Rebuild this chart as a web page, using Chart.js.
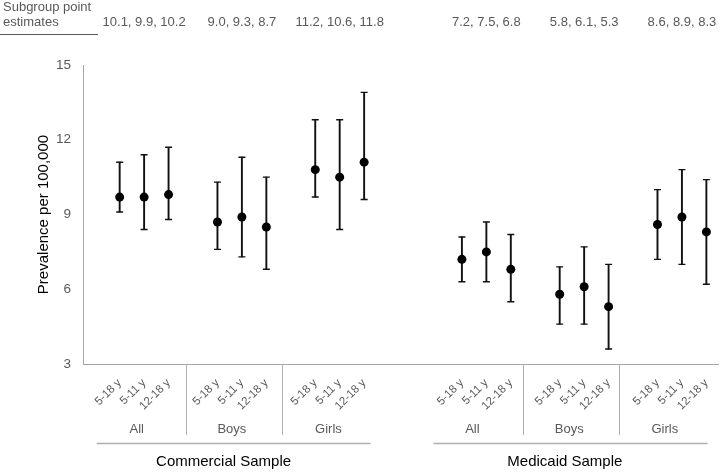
<!DOCTYPE html>
<html>
<head>
<meta charset="utf-8">
<script src="https://cdn.jsdelivr.net/npm/chart.js@4.4.1/dist/chart.umd.min.js"></script>
<style>
  body { margin: 0; background: #ffffff; }
</style>
</head>
<body>
<canvas id="myChart" width="724" height="473"></canvas>
<script>
'use strict';

//========== Data ==========
let ageBands = ['5-18 y', '5-11 y', '12-18 y'];
let subgroups = ['All', 'Boys', 'Girls'];
let samples = ['Commercial Sample', 'Medicaid Sample'];
let yTicks = [3, 6, 9, 12, 15];

// order: All (5-18, 5-11, 12-18), Boys (...), Girls (...)
let commercialPoint = [9.7, 9.7, 9.8, 8.7, 8.9, 8.5, 10.8, 10.5, 11.1];
let commercialLow = [9.1, 8.4, 8.8, 7.6, 7.3, 6.8, 9.7, 8.4, 9.6];
let commercialHigh = [11.1, 11.4, 11.7, 10.3, 11.3, 10.5, 12.8, 12.8, 13.9];

let medicaidPoint = [7.2, 7.5, 6.8, 5.8, 6.1, 5.3, 8.6, 8.9, 8.3];
let medicaidLow = [6.3, 6.3, 5.5, 4.6, 4.6, 3.6, 7.2, 7.0, 6.2];
let medicaidHigh = [8.1, 8.7, 8.2, 6.9, 7.7, 7.0, 10.0, 10.8, 10.4];

let pointEstimates = ['10.1, 9.9, 10.2', '9.0, 9.3, 8.7', '11.2, 10.6, 11.8',
  '7.2, 7.5, 6.8', '5.8, 6.1, 5.3', '8.6, 8.9, 8.3'];

//========== Build category slots ==========
let labels = [];
let pointData = [];
let lowData = [];
let highData = [];
let rangeData = [];
let groupMiddles = [];

function addBlank(n) {
  for (let i = 0; i < n; i++) {
    labels.push('');
    pointData.push(null);
    lowData.push(null);
    highData.push(null);
    rangeData.push(null);
  }
}

function addSample(points, lows, highs) {
  for (let g = 0; g < subgroups.length; g++) {
    addBlank(1);
    for (let a = 0; a < ageBands.length; a++) {
      let k = g * ageBands.length + a;
      labels.push(ageBands[a]);
      pointData.push(points[k]);
      lowData.push(lows[k]);
      highData.push(highs[k]);
      rangeData.push([lows[k], highs[k]]);
    }
    groupMiddles.push(labels.length - 2);
  }
}

addSample(commercialPoint, commercialLow, commercialHigh);
addBlank(2);
addSample(medicaidPoint, medicaidLow, medicaidHigh);

//========== Styling ==========
let fontFamily = '"Liberation Sans", Arial, sans-serif';
let grey = '#595959';
let lineGrey = '#b0b0b0';

// group decorations, in category-index units
let separatorsAt = [3.7, 7.64, 17.48, 21.41];
let groupLabelAt = [1.7, 5.59, 9.54, 15.43, 19.39, 23.3];
let sampleLineAt = [[0.06, 11.26], [13.84, 25.05]];
let sampleLabelAt = [5.25, 19.21];

let groupAxisPlugin = {
  id: 'groupAxis',
  afterDraw(chart) {
    let c = chart.ctx;
    let x = chart.scales.x;
    let bottom = chart.chartArea.bottom;
    c.save();

    // header
    c.fillStyle = grey;
    c.font = '13px ' + fontFamily;
    c.textAlign = 'left';
    c.textBaseline = 'alphabetic';
    c.fillText('Subgroup point', 3, 11);
    c.fillText('estimates', 3, 26);
    c.strokeStyle = grey;
    c.lineWidth = 1;
    c.beginPath();
    c.moveTo(0, 34.5);
    c.lineTo(98, 34.5);
    c.stroke();
    c.textAlign = 'center';
    for (let i = 0; i < pointEstimates.length; i++) {
      c.fillText(pointEstimates[i], x.getPixelForValue(groupMiddles[i]), 26);
    }

    // separators between subgroups
    c.strokeStyle = lineGrey;
    c.lineWidth = 1;
    for (let i = 0; i < separatorsAt.length; i++) {
      let px = Math.round(x.getPixelForValue(separatorsAt[i])) + 0.5;
      c.beginPath();
      c.moveTo(px, bottom);
      c.lineTo(px, 435);
      c.stroke();
    }

    // subgroup names
    c.fillStyle = grey;
    c.font = '13px ' + fontFamily;
    for (let i = 0; i < groupLabelAt.length; i++) {
      c.fillText(subgroups[i % subgroups.length], x.getPixelForValue(groupLabelAt[i]), 433);
    }

    // sample lines and names
    c.lineWidth = 1.5;
    for (let i = 0; i < samples.length; i++) {
      c.beginPath();
      c.moveTo(x.getPixelForValue(sampleLineAt[i][0]), 443.5);
      c.lineTo(x.getPixelForValue(sampleLineAt[i][1]), 443.5);
      c.stroke();
    }
    c.fillStyle = '#000000';
    c.font = '15px ' + fontFamily;
    for (let i = 0; i < samples.length; i++) {
      c.fillText(samples[i], x.getPixelForValue(sampleLabelAt[i]), 466);
    }
    c.restore();
  }
};

//========== Chart ==========
let ctx = document.getElementById('myChart').getContext('2d');

let myChart = new Chart(ctx, {
  data: {
    labels: labels,
    datasets: [
      {
        type: 'line',
        label: 'Point estimate',
        data: pointData,
        showLine: false,
        pointStyle: 'circle',
        pointRadius: 4.5,
        pointBackgroundColor: '#000000',
        pointBorderColor: '#000000',
        pointBorderWidth: 0
      },
      {
        type: 'line',
        label: 'Upper',
        data: highData,
        showLine: false,
        pointStyle: 'line',
        pointRadius: 3.5,
        pointBorderColor: '#111111',
        pointBorderWidth: 1.4
      },
      {
        type: 'line',
        label: 'Lower',
        data: lowData,
        showLine: false,
        pointStyle: 'line',
        pointRadius: 3.5,
        pointBorderColor: '#111111',
        pointBorderWidth: 1.4
      },
      {
        type: 'bar',
        label: '95% CI',
        data: rangeData,
        backgroundColor: '#111111',
        barThickness: 1.25,
        borderWidth: 0
      }
    ]
  },
  options: {
    responsive: false,
    animation: false,
    devicePixelRatio: 1,
    layout: { padding: { top: 65, right: 0, left: 0, bottom: 0 } },
    plugins: {
      legend: { display: false },
      tooltip: { enabled: false }
    },
    scales: {
      x: {
        type: 'category',
        offset: true,
        grid: { display: false, drawTicks: false },
        border: { display: true, color: '#a6a6a6', width: 1 },
        ticks: {
          autoSkip: false,
          minRotation: 45,
          maxRotation: 45,
          padding: 12,
          color: grey,
          font: { family: fontFamily, size: 11.5 }
        },
        afterFit: function (scale) {
          scale.height = 109;
          scale.paddingLeft = 0;
          scale.paddingRight = 0;
        }
      },
      y: {
        min: yTicks[0],
        max: yTicks[yTicks.length - 1],
        afterBuildTicks: function (scale) {
          scale.ticks = yTicks.map(v => ({ value: v }));
        },
        grid: { display: false, drawTicks: false },
        border: { display: true, color: '#a6a6a6', width: 1 },
        ticks: {
          padding: 12,
          color: grey,
          font: { family: fontFamily, size: 13.5 }
        },
        title: {
          display: true,
          text: 'Prevalence per 100,000',
          color: '#000000',
          font: { family: fontFamily, size: 15 },
          padding: { top: 35, bottom: 0 }
        },
        afterFit: function (scale) { scale.width = 83; }
      }
    }
  },
  plugins: [groupAxisPlugin]
});
</script>
</body>
</html>
